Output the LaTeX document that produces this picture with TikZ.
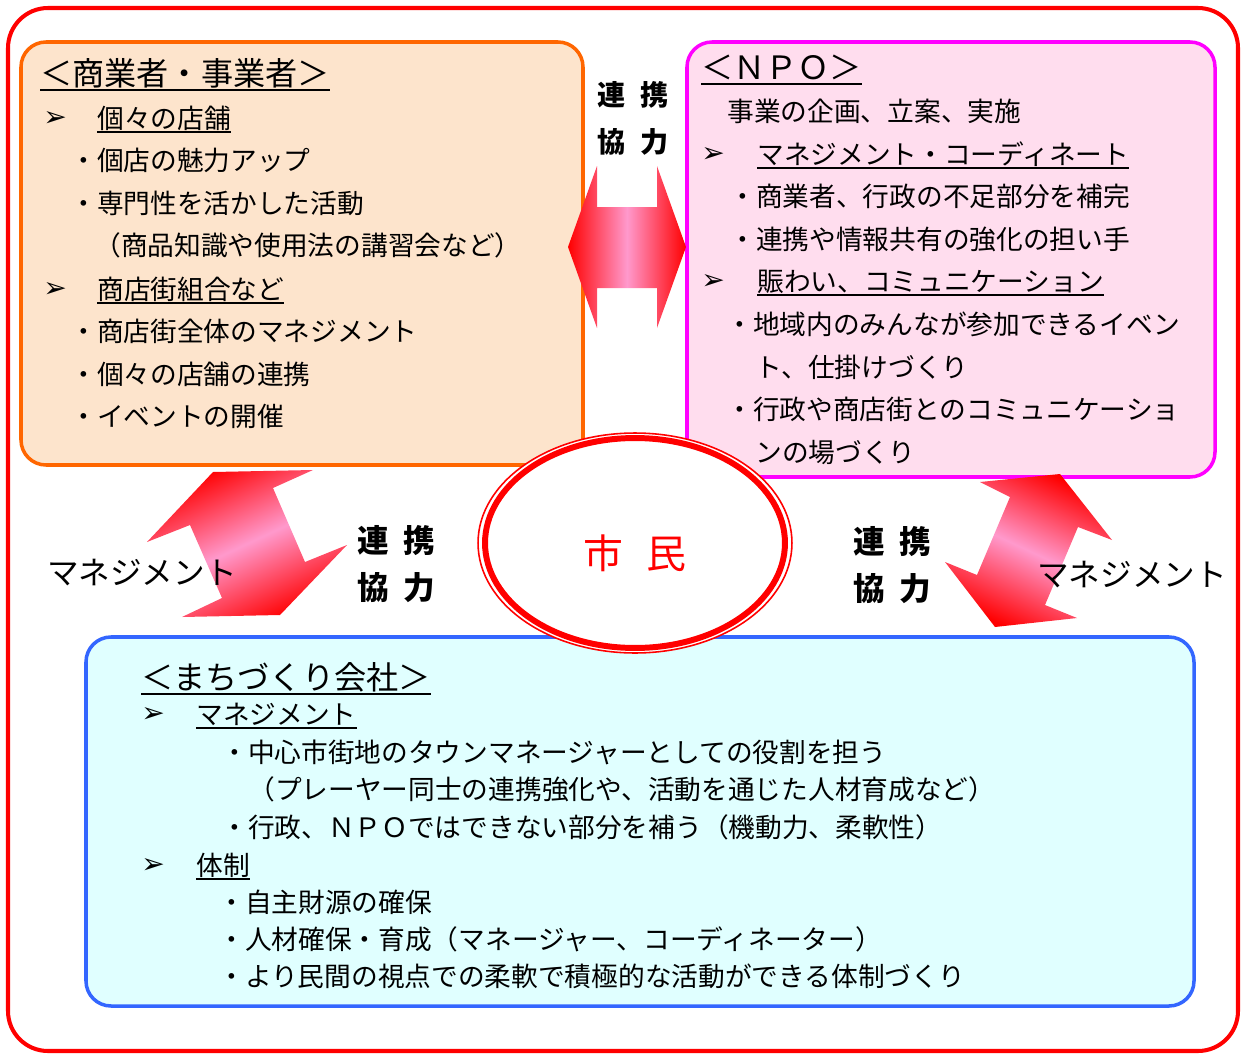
\documentclass[tikz,border=0pt]{standalone}
\usepackage{fontspec}
\setmainfont{Noto Sans CJK JP}
\newfontfamily\dingfont{DejaVu Sans}
\definecolor{borderRed}{HTML}{FF0000}
\definecolor{shopLine}{HTML}{FF6600}
\definecolor{shopFill}{HTML}{FDE4CC}
\definecolor{npoLine}{HTML}{FF00FF}
\definecolor{npoFill}{HTML}{FFDDEE}
\definecolor{coLine}{HTML}{3366FF}
\definecolor{coFill}{HTML}{E0FFFF}
\definecolor{arrowRed}{HTML}{FF0000}
\definecolor{arrowPink}{HTML}{FF99CC}
% underline a little below the baseline
\newcommand{\ulbox}[1]{\setbox0\hbox{#1}\rlap{\vrule width\wd0 height -0.13em depth 0.19em}\box0}

\begin{document}
\begin{tikzpicture}[x=0.02cm, y=-0.02cm, line join=round]

    \tikzset{
        box/.style={line width=2pt, rounded corners=0.5cm},
        line/.style={anchor=base west, inner sep=0pt, font=\fontsize{15.2}{18}\selectfont},
        head/.style={line, font=\fontsize{18.3}{22}\selectfont},
        pointer/.style={anchor=base west, inner sep=0pt, font=\dingfont\fontsize{16}{18}\selectfont},
        tie/.style={inner sep=0pt, font=\fontsize{16}{20}\selectfont\bfseries},
        tiebig/.style={inner sep=0pt, font=\fontsize{18}{22}\selectfont\bfseries},
        mgmt/.style={inner sep=0pt, font=\fontsize{18}{22}\selectfont}
    }
    \useasboundingbox (0,0) rectangle (1242,1055);

    % outer frame and the three boxes
    \draw[borderRed, line width=2.3pt, rounded corners=0.8cm] (8,8) rectangle (1238,1051);
    \draw[box, draw=shopLine, fill=shopFill] (21,42) rectangle (583,465);
    \draw[box, draw=npoLine, fill=npoFill] (687,42) rectangle (1215,477);
    \draw[box, draw=coLine, fill=coFill] (86,637) rectangle (1194,1006);

    % merchants
    \node[head] (shopT) at (40,85) {\ulbox{＜商業者・事業者＞}};
    \node[pointer] (shopP1) at (43,126) {➢};
    \node[line] (shopS1) at (97,128) {\ulbox{個々の店舗}};
    \node[line] (shopL1) at (70,170) {・個店の魅力アップ};
    \node[line] (shopL2) at (70,213) {・専門性を活かした活動};
    \node[line] (shopL3) at (94,255) {（商品知識や使用法の講習会など）};
    \node[pointer] (shopP2) at (43,297) {➢};
    \node[line] (shopS2) at (97,299) {\ulbox{商店街組合など}};
    \node[line] (shopL4) at (70,341) {・商店街全体のマネジメント};
    \node[line] (shopL5) at (70,384) {・個々の店舗の連携};
    \node[line] (shopL6) at (70,426) {・イベントの開催};

    % NPO
    \node[head] (npoT) at (701,79) {\ulbox{＜ＮＰＯ＞}};
    \node[line] (npoL0) at (727,121) {事業の企画、立案、実施};
    \node[pointer] (npoP1) at (701,162) {➢};
    \node[line] (npoS1) at (757,164) {\ulbox{マネジメント・コーディネート}};
    \node[line] (npoL1) at (729,206) {・商業者、行政の不足部分を補完};
    \node[line] (npoL2) at (729,249) {・連携や情報共有の強化の担い手};
    \node[pointer] (npoP2) at (701,289) {➢};
    \node[line] (npoS2) at (757,291) {\ulbox{賑わい、コミュニケーション}};
    \node[line] (npoL3) at (726,334) {・地域内のみんなが参加できるイベン};
    \node[line] (npoL4) at (755,377) {ト、仕掛けづくり};
    \node[line] (npoL5) at (726,419) {・行政や商店街とのコミュニケーショ};
    \node[line] (npoL6) at (755,462) {ンの場づくり};

    % town management company
    \node[head] (coT) at (141,689) {\ulbox{＜まちづくり会社＞}};
    \node[pointer] (coP1) at (141,722) {➢};
    \node[line] (coS1) at (196,724) {\ulbox{マネジメント}};
    \node[line] (coL1) at (221,762) {・中心市街地のタウンマネージャーとしての役割を担う};
    \node[line] (coL2) at (248,799) {（プレーヤー同士の連携強化や、活動を通じた人材育成など）};
    \node[line] (coL3) at (221,837) {・行政、ＮＰＯではできない部分を補う（機動力、柔軟性）};
    \node[pointer] (coP2) at (141,873) {➢};
    \node[line] (coS2) at (196,875) {\ulbox{体制}};
    \node[line] (coL4) at (218,912) {・自主財源の確保};
    \node[line] (coL5) at (218,949) {・人材確保・育成（マネージャー、コーディネーター）};
    \node[line] (coL6) at (218,986) {・より民間の視点での柔軟で積極的な活動ができる体制づくり};

    % shaded double arrows
    \shade[left color=arrowRed, right color=arrowRed, middle color=arrowPink]
        (568,247) -- (597,166) -- (597,207) -- (657,207) -- (657,166) -- (686,247)
        -- (657,328) -- (657,288) -- (597,288) -- (597,328) -- cycle;
    \shade[top color=arrowRed, bottom color=arrowRed, middle color=arrowPink, shading angle=25]
        (147,542) -- (213,472) -- (313,470) -- (273,488) -- (305,562) -- (347,545)
        -- (280,615) -- (182,617) -- (222,598) -- (190,525) -- cycle;
    \shade[top color=arrowRed, bottom color=arrowRed, middle color=arrowPink, shading angle=-25]
        (980,482) -- (1060,474) -- (1112,540) -- (1078,527) -- (1045,605) -- (1077,618)
        -- (995,627) -- (945,562) -- (977,575) -- (1010,497) -- cycle;

    % labels
    \node[tie] (linkA) at (633,95) {連\hspace{0.5em}携};
    \node[tie] (coopA) at (633,142) {協\hspace{0.5em}力};
    \node[tiebig] (linkB) at (396,541) {連\hspace{0.45em}携};
    \node[tiebig] (coopB) at (396,588) {協\hspace{0.45em}力};
    \node[tiebig] (linkC) at (892,542) {連\hspace{0.45em}携};
    \node[tiebig] (coopC) at (892,589) {協\hspace{0.45em}力};
    \node[mgmt] (mgmtL) at (142,573) {マネジメント};
    \node[mgmt] (mgmtR) at (1132,575) {マネジメント};

    % citizens in the middle
    \def\rx{3.14cm}
    \def\ry{2.2cm}
    \draw[borderRed, line width=0.9pt, fill=white] (635,543) ellipse [x radius=\rx, y radius=\ry];
    \draw[borderRed, line width=3.4pt] (635,543) ellipse [x radius=3.0cm, y radius=2.1cm];
    \node[text=borderRed, inner sep=0pt, font=\fontsize{22.7}{26}\selectfont] (citizen) at (635,553) {市\hspace{0.6em}民};

\end{tikzpicture}
\end{document}
